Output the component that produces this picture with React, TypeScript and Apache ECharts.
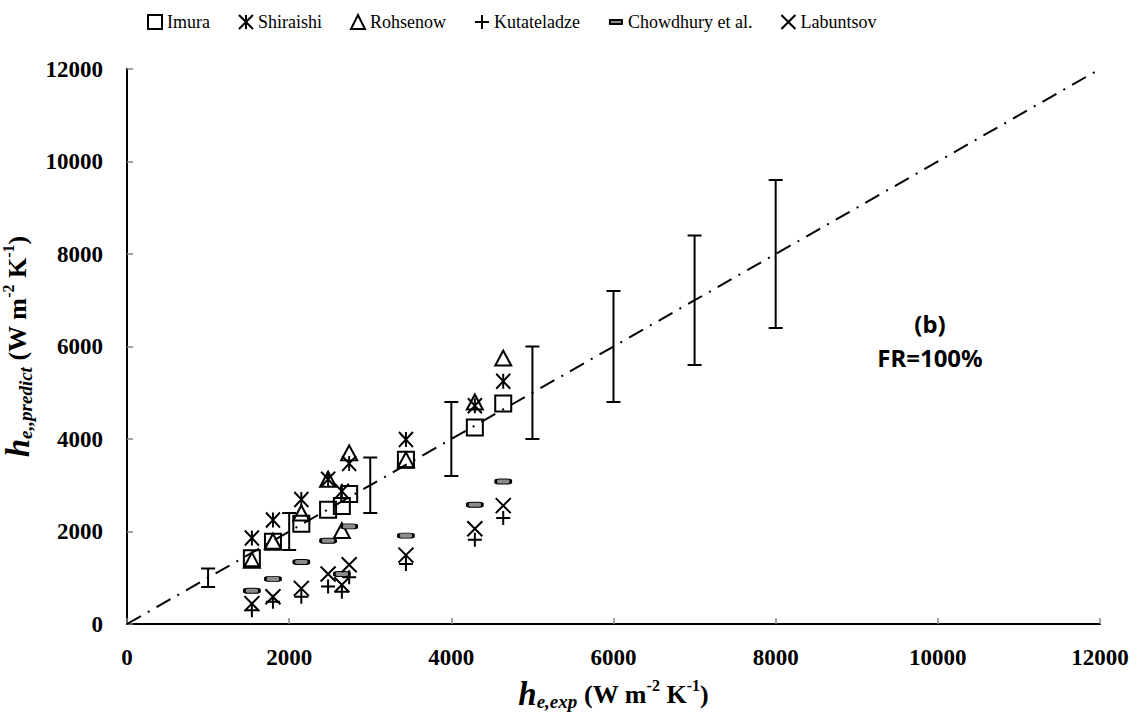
import React, { useEffect, useRef } from "react";
import * as echarts from "echarts";

// Experimental evaporation heat transfer coefficient (W m-2 K-1)
const hExp = [1540, 1800, 2150, 2480, 2650, 2740, 3440, 4290, 4640];

// Predicted coefficients from each correlation
const imura = [1420, 1780, 2170, 2470, 2550, 2810, 3550, 4250, 4770];
const shiraishi = [1860, 2250, 2690, 3130, 2870, 3470, 3990, 4720, 5250];
const rohsenow = [1380, 1790, 2400, 3130, 2020, 3700, 3550, 4800, 5750];
const kutateladze = [300, 480, 590, 810, 700, 1010, 1300, 1820, 2290];
const chowdhury = [720, 975, 1340, 1800, 1080, 2110, 1910, 2580, 3080];
const labuntsov = [440, 590, 770, 1080, 850, 1280, 1490, 2060, 2560];

// ±20% band shown as error bars along the parity line
const errX = [1000, 2000, 3000, 4000, 5000, 6000, 7000, 8000];
const errLow = [800, 1600, 2400, 3200, 4000, 4800, 5600, 6400];
const errHigh = [1200, 2400, 3600, 4800, 6000, 7200, 8400, 9600];

const parityLine = [
  [0, 0],
  [12000, 12000],
];

const axisTicks = [0, 2000, 4000, 6000, 8000, 10000, 12000];

const SERIF = "Liberation Serif";
const SANS = "Noto Sans";
const EMPTY = "rgba(0,0,0,0)";

const pair = (ys: number[]) => hExp.map((x, i) => [x, ys[i]]);

export default function App() {
  const ref = useRef<HTMLDivElement>(null);

  useEffect(() => {
    if (!ref.current) return;
    const chart = echarts.init(ref.current, null, { renderer: "svg" });

    const outline = (extra: any = {}) => ({
      color: EMPTY,
      borderColor: "#000",
      borderWidth: 2,
      opacity: 1,
      ...extra,
    });

    const titleRich = {
      h: { fontFamily: SERIF, fontSize: 33, fontWeight: "bold", fontStyle: "italic", color: "#000", lineHeight: 34 },
      sub: { fontFamily: SERIF, fontSize: 19, fontWeight: "bold", fontStyle: "italic", color: "#000", lineHeight: 16, verticalAlign: "bottom" },
      t: { fontFamily: SERIF, fontSize: 26, fontWeight: "bold", color: "#000", lineHeight: 34 },
      sup: { fontFamily: SERIF, fontSize: 16, fontWeight: "bold", color: "#000", lineHeight: 18, verticalAlign: "top" },
    };

    const valueAxisLabel = {
      fontFamily: SERIF,
      fontSize: 23,
      fontWeight: "bold",
      color: "#000",
      formatter: (v: number) => String(v),
    };

    const legendNames = ["Imura", "Shiraishi", "Rohsenow", "Kutateladze", "Chowdhury et al.", "Labuntsov"];

    chart.setOption({
      animation: false,
      backgroundColor: "#fff",
      textStyle: { fontFamily: SERIF },
      grid: { left: 127, right: 40, top: 69, bottom: 93, outerBoundsMode: "none", containLabel: false },
      legend: {
        top: 8,
        left: 142,
        itemWidth: 14,
        itemHeight: 14,
        itemGap: 28,
        textStyle: { fontFamily: SERIF, fontSize: 18, color: "#000" },
        data: legendNames.map((n) =>
          n === "Chowdhury et al."
            ? { name: n, icon: "path://M0,0M14,14M1,5L13,5L13,9L1,9Z" }
            : { name: n }
        ),
      },
      xAxis: [
        {
          type: "value",
          min: axisTicks[0],
          max: axisTicks[axisTicks.length - 1],
          interval: 2000,
          axisLine: { lineStyle: { color: "#868686", width: 2 } },
          axisTick: { inside: true, length: 6, lineStyle: { color: "#868686", width: 1.5 } },
          splitLine: { show: false },
          axisLabel: { ...valueAxisLabel, margin: 22 },
          name: "{h|h}{sub|e,exp}{t| (W m}{sup|-2}{t| K}{sup|-1}{t|)}",
          nameLocation: "middle",
          nameGap: 53,
          nameTextStyle: { rich: titleRich },
        },
        {
          type: "value",
          position: "top",
          min: 0,
          max: 12000,
          axisLine: { lineStyle: { color: "#000", width: 2 } },
          axisTick: { show: false },
          axisLabel: { show: false },
          splitLine: { show: false },
        },
      ],
      yAxis: [
        {
          type: "value",
          min: axisTicks[0],
          max: axisTicks[axisTicks.length - 1],
          interval: 2000,
          axisLine: { show: true, lineStyle: { color: "#868686", width: 2 } },
          axisTick: { show: true, inside: true, length: 6, lineStyle: { color: "#868686", width: 1.5 } },
          splitLine: { show: false },
          axisLabel: { ...valueAxisLabel, margin: 24 },
          name: "{h|h}{sub|e,,predict}{t| (W m}{sup|-2}{t| K}{sup|-1}{t|)}",
          nameLocation: "middle",
          nameRotate: 90,
          nameGap: 70,
          nameTextStyle: { rich: titleRich },
        },
        {
          type: "value",
          position: "right",
          min: 0,
          max: 12000,
          axisLine: { show: true, lineStyle: { color: "#000", width: 2 } },
          axisTick: { show: false },
          axisLabel: { show: false },
          splitLine: { show: false },
        },
      ],
      graphic: [
        {
          type: "text",
          x: 930,
          y: 323,
          style: { text: "(b)", fontFamily: SANS, fontWeight: "bold", fontSize: 24, fill: "#000", align: "center", verticalAlign: "middle" },
        },
        {
          type: "text",
          x: 930,
          y: 357,
          style: { text: "FR=100%", fontFamily: SANS, fontWeight: "bold", fontSize: 24, fill: "#000", align: "center", verticalAlign: "middle" },
        },
      ],
      series: [
        {
          name: "Imura",
          type: "scatter",
          symbol: "rect",
          symbolSize: 16,
          itemStyle: outline(),
          data: pair(imura),
          z: 3,
        },
        {
          name: "Shiraishi",
          type: "scatter",
          symbol: "path://M0,0L10,10M10,0L0,10M5,0L5,10",
          symbolSize: [14, 15],
          itemStyle: outline(),
          data: pair(shiraishi),
          z: 3,
        },
        {
          name: "Rohsenow",
          type: "scatter",
          symbol: "triangle",
          symbolSize: [16, 15],
          itemStyle: outline(),
          data: pair(rohsenow),
          z: 3,
        },
        {
          name: "Kutateladze",
          type: "scatter",
          symbol: "path://M5,0L5,10M0,5L10,5",
          symbolSize: 14,
          itemStyle: outline(),
          data: pair(kutateladze),
          z: 3,
        },
        {
          name: "Chowdhury et al.",
          type: "scatter",
          symbol: "roundRect",
          symbolSize: [15, 5],
          itemStyle: { color: "#8c8c8c", borderColor: "#000", borderWidth: 1.6, opacity: 1 },
          data: pair(chowdhury),
          z: 3,
        },
        {
          name: "Labuntsov",
          type: "scatter",
          symbol: "path://M0,0L10,10M10,0L0,10",
          symbolSize: 15,
          itemStyle: outline(),
          data: pair(labuntsov),
          z: 3,
        },
        {
          name: "parity",
          type: "line",
          data: parityLine,
          showSymbol: false,
          symbol: "none",
          lineStyle: { color: "#000", width: 2, type: [16, 8, 2, 8] },
          z: 4,
          silent: true,
        },
        {
          name: "error",
          type: "custom",
          data: errX.map((x, i) => [x, errLow[i], errHigh[i]]),
          encode: { x: 0, y: [1, 2] },
          z: 4,
          silent: true,
          renderItem: (params: any, api: any) => {
            const x = api.value(0);
            const lo = api.coord([x, api.value(1)]);
            const hi = api.coord([x, api.value(2)]);
            const cap = 7;
            const style = { stroke: "#000", lineWidth: 2 };
            return {
              type: "group",
              children: [
                { type: "line", shape: { x1: lo[0], y1: lo[1], x2: hi[0], y2: hi[1] }, style },
                { type: "line", shape: { x1: lo[0] - cap, y1: lo[1], x2: lo[0] + cap, y2: lo[1] }, style },
                { type: "line", shape: { x1: hi[0] - cap, y1: hi[1], x2: hi[0] + cap, y2: hi[1] }, style },
              ],
            };
          },
        },
      ],
    });

    return () => chart.dispose();
  }, []);

  return (
    <div
      ref={ref}
      style={{ position: "fixed", left: 0, top: 0, width: 1140, height: 717, background: "#fff" }}
    />
  );
}
